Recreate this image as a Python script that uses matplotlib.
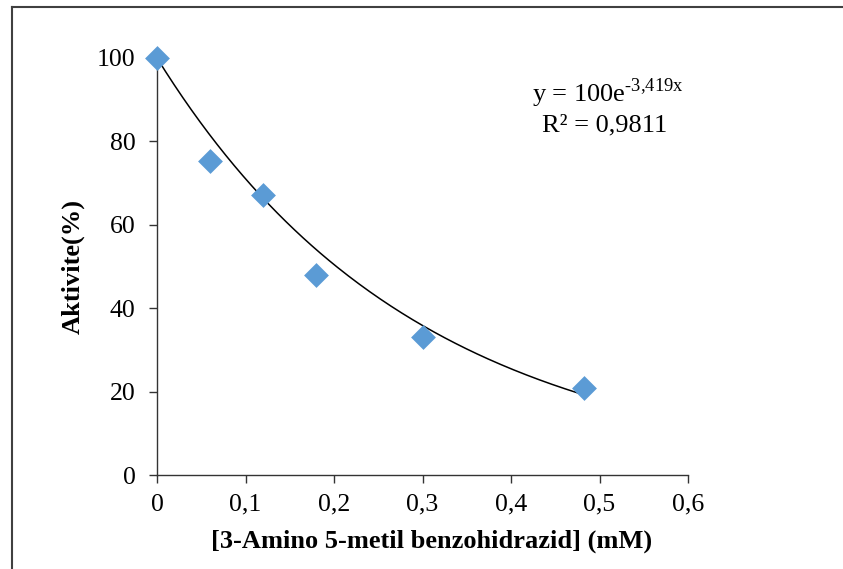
import numpy as np
import matplotlib
matplotlib.use("Agg")
import matplotlib.pyplot as plt
from matplotlib.lines import Line2D

conc = [0.0, 0.06, 0.12, 0.18, 0.30, 0.483]
activity = [100.0, 75.3, 67.2, 48.0, 33.2, 20.8]
fit_a = 100.0
fit_b = -3.419
xticks = [0, 0.1, 0.2, 0.3, 0.4, 0.5, 0.6]
xticklabels = ["0", "0,1", "0,2", "0,3", "0,4", "0,5", "0,6"]
yticks = [0, 20, 40, 60, 80, 100]

plt.rcParams['font.family'] = ['Liberation Serif', 'DejaVu Serif']
plt.rcParams['mathtext.fontset'] = 'custom'
plt.rcParams['mathtext.rm'] = 'Liberation Serif'

W, H = 843, 569
fig = plt.figure(figsize=(W/100, H/100), dpi=100)
ax = fig.add_axes([157/W, 1-475/H, (688-157)/W, (475-58)/H])

xf = np.linspace(0, max(conc), 200)
ax.plot(xf, fit_a*np.exp(fit_b*xf), color='black', lw=1.1, zorder=2)
ax.scatter(conc, activity, marker='D', s=160, color='#5B9BD5', zorder=3, clip_on=False, linewidths=0)

ax.set_xlim(0, 0.6)
ax.set_ylim(0, 100)
ax.set_xticks(xticks)
ax.set_xticklabels(xticklabels)
ax.set_yticks(yticks)
ax.tick_params(axis='both', labelsize=18.5, direction='out', length=5.5, width=1, color='#333333')
ax.tick_params(axis='y', pad=10)
ax.tick_params(axis='x', pad=8)
for s in ['top', 'right']:
    ax.spines[s].set_visible(False)
for s in ['left', 'bottom']:
    ax.spines[s].set_color('#333333')
    ax.spines[s].set_linewidth(1)

ax.set_xlabel("[3-Amino 5-metil benzohidrazid] (mM)", fontsize=19, fontweight='bold', va='center')
ax.xaxis.set_label_coords((432-157)/531, (475-541)/417)
ax.set_ylabel("Aktivite(%)", fontsize=19, fontweight='bold', va='center')
ax.yaxis.set_label_coords((73-157)/531, 0.5)

fig.text(608/W, 1-93/H, r"y = 100e$^{\text{-3,419x}}$", fontsize=19, ha='center', va='center')
fig.text(605/W, 1-125/H, "R² = 0,9811", fontsize=19, ha='center', va='center')

fig.add_artist(Line2D([12/W, 1], [1-7/H, 1-7/H], color='#404040', lw=1.5))
fig.add_artist(Line2D([12/W, 12/W], [0, 1-7/H], color='#404040', lw=1.5))

fig.savefig("out.png", dpi=100)
